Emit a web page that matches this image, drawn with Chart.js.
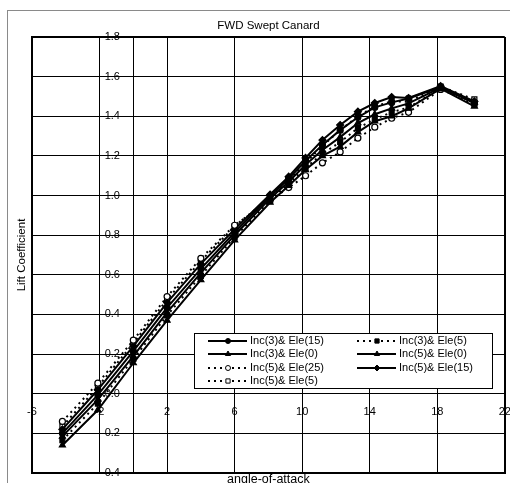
<!DOCTYPE html>
<html>
<head>
<meta charset="utf-8">
<title>FWD Swept Canard</title>
<script src="https://cdn.jsdelivr.net/npm/chart.js@4.4.1/dist/chart.umd.min.js"></script>
<style>
  html, body { margin: 0; padding: 0; background: #fff; overflow: hidden; }
  #wrap { position: relative; width: 510px; height: 483px; }
  #frame { position: absolute; left: 7px; top: 10px; width: 520px; height: 490px;
           border-left: 1px solid #8a8a8a; border-top: 1px solid #8a8a8a; }
  #holder { position: absolute; left: 0; top: 0; width: 510px; height: 483px; }
</style>
</head>
<body>
<div id="wrap">
  <div id="frame"></div>
  <div id="holder"><canvas id="liftChart"></canvas></div>
</div>
<script>
// angle-of-attack stations (deg)
const alphas = [-4.2, -2.1, 0, 2, 4, 6, 8.1, 9.2, 10.2, 11.2, 12.25, 13.3, 14.3, 15.3, 16.3, 18.2, 20.2];

// lift coefficient for each configuration
const inc3ele15 = [-0.200, -0.006, 0.215, 0.435, 0.630, 0.815, 0.995, 1.085, 1.175, 1.255, 1.330, 1.395, 1.445, 1.470, 1.490, 1.548, 1.465];
const inc3ele5  = [-0.235, -0.050, 0.175, 0.395, 0.595, 0.790, 0.975, 1.060, 1.140, 1.210, 1.270, 1.340, 1.385, 1.420, 1.445, 1.540, 1.460];
const inc3ele0  = [-0.260, -0.082, 0.155, 0.370, 0.574, 0.775, 0.965, 1.050, 1.130, 1.200, 1.247, 1.320, 1.375, 1.400, 1.440, 1.540, 1.450];
const inc5ele0  = [-0.215, -0.030, 0.190, 0.410, 0.610, 0.800, 0.985, 1.070, 1.155, 1.230, 1.295, 1.366, 1.410, 1.440, 1.465, 1.545, 1.470];
const inc5ele25 = [-0.140, 0.053, 0.270, 0.490, 0.683, 0.850, 0.975, 1.040, 1.100, 1.165, 1.220, 1.290, 1.345, 1.390, 1.420, 1.535, 1.470];
const inc5ele15 = [-0.180, 0.020, 0.240, 0.460, 0.655, 0.830, 1.005, 1.095, 1.190, 1.280, 1.356, 1.423, 1.467, 1.497, 1.492, 1.552, 1.475];
const inc5ele5  = [-0.165, 0.035, 0.255, 0.475, 0.670, 0.845, 0.990, 1.075, 1.165, 1.250, 1.330, 1.400, 1.450, 1.475, 1.475, 1.550, 1.485];

const seriesLabels = ['Inc(3)& Ele(15)', 'Inc(3)& Ele(5)', 'Inc(3)& Ele(0)', 'Inc(5)& Ele(0)',
                      'Inc(5)& Ele(25)', 'Inc(5)& Ele(15)', 'Inc(5)& Ele(5)'];
const seriesValues = [inc3ele15, inc3ele5, inc3ele0, inc5ele0, inc5ele25, inc5ele15, inc5ele5];

// x tick marks / grid (0 carries the value axis, no label)
const xTicks = [-6, -2, 0, 2, 6, 10, 14, 18, 22];

// line + marker style per series
const seriesStyles = [
    { dash: [],     shape: 'circle',   filled: true,  r: 3 },
    { dash: [2, 4], shape: 'rect',     filled: true,  r: 3.5 },
    { dash: [],     shape: 'triangle', filled: true,  r: 3.5 },
    { dash: [],     shape: 'triangle', filled: true,  r: 3.5 },
    { dash: [2, 4], shape: 'circle',   filled: false, r: 3 },
    { dash: [],     shape: 'rectRot',  filled: true,  r: 3.5 },
    { dash: [2, 4], shape: 'rect',     filled: false, r: 3.5 },
];

const FONT = '"Liberation Sans", Arial, Helvetica, sans-serif';
Chart.defaults.font.family = FONT;
Chart.defaults.color = '#000';

const datasets = seriesValues.map((vals, i) => {
    const st = seriesStyles[i];
    return {
        label: seriesLabels[i],
        data: vals.map((v, j) => ({ x: alphas[j], y: v })),
        showLine: true,
        tension: 0,
        borderColor: '#000',
        borderWidth: 2,
        borderDash: st.dash,
        pointStyle: st.shape,
        pointRadius: st.r,
        pointBorderWidth: 1.2,
        pointBorderColor: '#000',
        pointBackgroundColor: st.filled ? '#000' : '#fff',
    };
});

// legend drawn inside the plot, two columns, row by row
const insideLegend = {
    id: 'insideLegend',
    afterDatasetsDraw(chart) {
        const { ctx, chartArea } = chart;
        const x0 = chartArea.left + 162, y0 = chartArea.top + 296, w = 298, h = 55;
        ctx.save();
        ctx.fillStyle = '#fff';
        ctx.fillRect(x0, y0, w, h);
        ctx.strokeStyle = '#000';
        ctx.lineWidth = 1;
        ctx.strokeRect(x0 + 0.5, y0 + 0.5, w, h);
        ctx.font = '11px ' + FONT;
        ctx.textBaseline = 'middle';
        chart.data.datasets.forEach((ds, i) => {
            const col = i % 2, row = Math.floor(i / 2);
            const lx = x0 + 14 + col * 149;
            const ly = Math.round(y0 + 8 + row * 13.3);
            ctx.beginPath();
            ctx.setLineDash(ds.borderDash);
            ctx.lineWidth = 2;
            ctx.strokeStyle = '#000';
            ctx.moveTo(lx, ly);
            ctx.lineTo(lx + 39, ly);
            ctx.stroke();
            ctx.setLineDash([]);
            ctx.fillStyle = ds.pointBackgroundColor;
            ctx.lineWidth = 1;
            Chart.helpers.drawPoint(ctx, { pointStyle: ds.pointStyle, radius: ds.pointRadius - 0.5, rotation: 0, borderWidth: 1 }, lx + 20, ly);
            ctx.fillStyle = '#000';
            ctx.fillText(ds.label, lx + 42, ly);
        });
        ctx.restore();
    }
};

const edgeWidth = (v, lo, hi) => (Math.abs(v - lo) < 1e-6 || Math.abs(v - hi) < 1e-6) ? 2 : 1;

new Chart(document.getElementById('liftChart'), {
    type: 'scatter',
    data: { datasets },
    options: {
        responsive: true,
        maintainAspectRatio: false,
        animation: false,
        layout: { padding: { left: 0, right: 3, top: 0, bottom: 0 } },
        plugins: {
            legend: { display: false },
            tooltip: { enabled: false },
            title: {
                display: true,
                text: 'FWD Swept Canard',
                fullSize: false,
                color: '#000',
                font: { size: 11.5, weight: 'normal' },
                padding: { top: 19, bottom: 4.2 },
            },
        },
        scales: {
            x: {
                type: 'linear',
                min: -6,
                max: 22,
                afterBuildTicks: (scale) => { scale.ticks = xTicks.map(v => ({ value: v })); },
                afterFit: (scale) => { scale.height = 10; scale.paddingLeft = 0; scale.paddingRight = 0; },
                grid: {
                    color: '#000',
                    drawTicks: false,
                    lineWidth: (c) => edgeWidth(c.tick ? c.tick.value : 0, -6, 22),
                },
                border: { color: '#000', width: 2 },
                ticks: {
                    mirror: true,
                    padding: 54,
                    maxRotation: 0,
                    autoSkip: false,
                    font: { size: 11 },
                    callback: (v) => (v === 0 ? '' : String(v)),
                },
                title: {
                    display: true,
                    text: 'angle-of-attack',
                    font: { size: 12.5 },
                    padding: { top: 0, bottom: -4 },
                },
            },
            y: {
                type: 'linear',
                min: -0.4,
                max: 1.8,
                afterFit: (scale) => { scale.width = 32; scale.paddingTop = 0; scale.paddingBottom = 0; },
                grid: {
                    color: '#000',
                    drawTicks: false,
                    lineWidth: (c) => edgeWidth(c.tick ? c.tick.value : 0, -0.4, 1.8),
                },
                border: { color: '#000', width: 2 },
                ticks: {
                    stepSize: 0.2,
                    mirror: true,
                    crossAlign: 'far',
                    padding: 69,
                    font: { size: 11 },
                    callback: (v) => (Math.abs(v) < 1e-9 ? '0.0' : Number(v).toFixed(1)),
                },
                title: {
                    display: true,
                    text: 'Lift Coefficient',
                    font: { size: 11.5 },
                    padding: { top: 15, bottom: 0 },
                },
            },
        },
    },
    plugins: [insideLegend],
});
</script>
</body>
</html>
